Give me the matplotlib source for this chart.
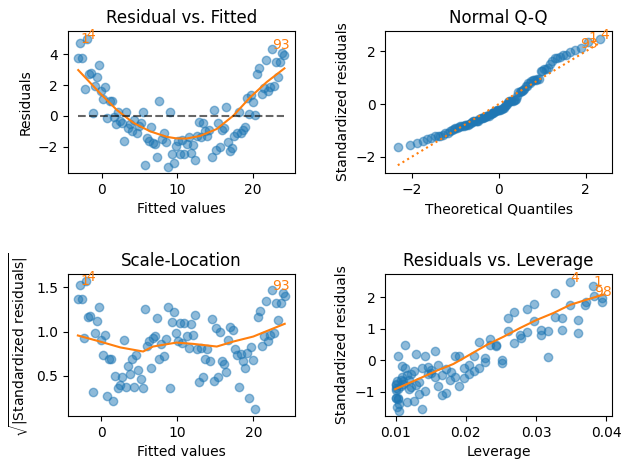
import math
import numpy as np
import matplotlib
matplotlib.use("Agg")
import matplotlib.pyplot as plt

# ---- data ----
fitted = [-3.09, -2.81, -2.54, -2.26, -1.99, -1.71, -1.44, -1.16, -0.89, -0.61,
          -0.34, -0.06, 0.21, 0.49, 0.76, 1.04, 1.31, 1.59, 1.86, 2.14,
          2.41, 2.69, 2.96, 3.24, 3.51, 3.79, 4.06, 4.34, 4.61, 4.89,
          5.16, 5.44, 5.71, 5.99, 6.26, 6.54, 6.81, 7.09, 7.36, 7.64,
          7.91, 8.19, 8.46, 8.74, 9.01, 9.29, 9.56, 9.84, 10.11, 10.39,
          10.67, 10.94, 11.22, 11.49, 11.77, 12.04, 12.32, 12.59, 12.87, 13.14,
          13.42, 13.69, 13.97, 14.24, 14.52, 14.79, 15.07, 15.34, 15.62, 15.89,
          16.17, 16.44, 16.72, 16.99, 17.27, 17.54, 17.82, 18.09, 18.37, 18.64,
          18.92, 19.19, 19.47, 19.74, 20.02, 20.29, 20.57, 20.84, 21.12, 21.39,
          21.67, 21.94, 22.22, 22.49, 22.77, 23.04, 23.32, 23.59, 23.87, 24.14]

residuals = [3.74, 4.71, 3.74, 1.73, 4.97, 2.72, 2.77, 0.20, 1.95, 2.51,
             3.29, 1.64, 1.10, 1.86, -0.15, 0.97, 0.97, -0.09, -0.50, 0.26,
             -0.32, -0.48, -1.65, 0.28, -0.76, -0.54, -0.97, -0.28, -1.08, -0.65,
             -0.43, 0.26, -3.18, -1.41, -1.62, -0.69, -1.73, -1.84, -2.70, 0.97,
             -1.51, -1.08, -1.70, -3.31, 0.26, -2.49, -3.03, -1.95, -1.62, -2.47,
             -1.56, -2.47, -1.82, -1.34, -2.42, -1.88, -2.85, -1.30, -0.37, -1.34,
             -0.48, -0.97, -1.30, -0.90, -2.64, 0.39, -2.21, -0.48, -1.99, -0.90,
             -0.80, 0.60, -1.67, -2.25, -2.10, -1.30, -1.08, 0.28, -1.12, -0.91,
             -0.69, 1.15, 0.13, 1.36, 0.93, 0.03, 2.72, 3.09, 1.41, 1.84,
             3.63, 1.62, 1.86, 4.32, 1.95, 3.52, 2.55, 3.52, 4.11, 3.96]

resid_labels = [4, 1, 93]
lev_labels = [4, 1, 98]

resid_lowess_x = [-3.09, -0.2, 2.0, 4.2, 6.4, 8.6, 9.9, 11.2, 13.0, 15.2, 17.4, 19.6, 21.8, 24.14]
resid_lowess_y = [2.98, 1.47, 0.39, -0.45, -1.0, -1.36, -1.46, -1.47, -1.30, -0.85, 0.02, 1.2, 2.2, 3.09]

sl_lowess_x = [-3.09, -0.2, 2.5, 5.5, 6.8, 9.9, 12.1, 15.2, 17.4, 20.0, 24.14]
sl_lowess_y = [0.955, 0.887, 0.82, 0.774, 0.83, 0.875, 0.86, 0.83, 0.887, 0.943, 1.087]

lev_lowess_x = [0.0099, 0.01347, 0.01585, 0.0182, 0.0201, 0.023, 0.0254, 0.0277,
                0.0301, 0.0325, 0.0349, 0.0372, 0.0396]
lev_lowess_y = [-0.92, -0.57, -0.33, -0.12, 0.12, 0.49, 0.75, 1.02, 1.28, 1.5, 1.76, 1.92, 2.08]

# ---- standard regression diagnostics derived from the read values ----
f = np.array(fitted)
r = np.array(residuals)
n = len(f)
lev = 1.0 / n + (f - f.mean()) ** 2 / np.sum((f - f.mean()) ** 2)
s = np.sqrt(np.sum(r ** 2) / (n - 2))
std_res = r / (s * np.sqrt(1 - lev))
sqrt_abs = np.sqrt(np.abs(std_res))


def norm_ppf(p):
    lo, hi = -10.0, 10.0
    for _ in range(80):
        mid = 0.5 * (lo + hi)
        if 0.5 * (1 + math.erf(mid / math.sqrt(2))) < p:
            lo = mid
        else:
            hi = mid
    return 0.5 * (lo + hi)


order = np.argsort(std_res)
sorted_std = std_res[order]
theo = np.array([norm_ppf((i + 1) / (n + 1)) for i in range(n)])
rank_of = np.empty(n, dtype=int)
rank_of[order] = np.arange(n)

fig, axes = plt.subplots(2, 2, figsize=(6.29, 4.69), dpi=100)
fig.subplots_adjust(left=0.108, right=0.973, top=0.934, bottom=0.113,
                    wspace=0.399, hspace=0.713)
ax1, ax2, ax3, ax4 = axes.ravel()

# Residual vs fitted
ax1.scatter(f, r, alpha=0.5)
ax1.plot(resid_lowess_x, resid_lowess_y, color="C1")
ax1.plot([f.min(), f.max()], [0, 0], color="black", alpha=0.6, linestyle="--")
for i in resid_labels:
    ax1.annotate(str(i), xy=(f[i], r[i]), color="C1")
ax1.set_xlim(-4.45, 25.5)
ax1.set_ylim(-3.70, 5.52)
ax1.set_title("Residual vs. Fitted")
ax1.set_xlabel("Fitted values")
ax1.set_ylabel("Residuals")

# Normal Q-Q
ax2.scatter(theo, sorted_std, alpha=0.5)
ax2.plot([theo.min(), theo.max()], [theo.min(), theo.max()], color="C1", linestyle=":")
for i in resid_labels:
    ax2.annotate(str(i), xy=(theo[rank_of[i]], std_res[i]), color="C1")
ax2.set_xlim(-2.62, 2.61)
ax2.set_ylim(-2.62, 2.78)
ax2.set_title("Normal Q-Q")
ax2.set_xlabel("Theoretical Quantiles")
ax2.set_ylabel("Standardized residuals")

# Scale-Location
ax3.scatter(f, sqrt_abs, alpha=0.5)
ax3.plot(sl_lowess_x, sl_lowess_y, color="C1")
for i in resid_labels:
    ax3.annotate(str(i), xy=(f[i], sqrt_abs[i]), color="C1")
ax3.set_xlim(-4.40, 25.46)
ax3.set_ylim(0.045, 1.649)
ax3.set_title("Scale-Location")
ax3.set_xlabel("Fitted values")
ax3.set_ylabel(r"$\sqrt{|\mathrm{Standardized\ residuals}|}$")

# Residuals vs Leverage
ax4.scatter(lev, std_res, alpha=0.5)
ax4.plot(lev_lowess_x, lev_lowess_y, color="C1")
for i in lev_labels:
    ax4.annotate(str(i), xy=(lev[i], std_res[i]), color="C1")
ax4.set_xlim(0.00848, 0.04086)
ax4.set_ylim(-1.771, 2.736)
ax4.set_title("Residuals vs. Leverage")
ax4.set_xlabel("Leverage")
ax4.set_ylabel("Standardized residuals")

fig.savefig("out.png", dpi=100)
